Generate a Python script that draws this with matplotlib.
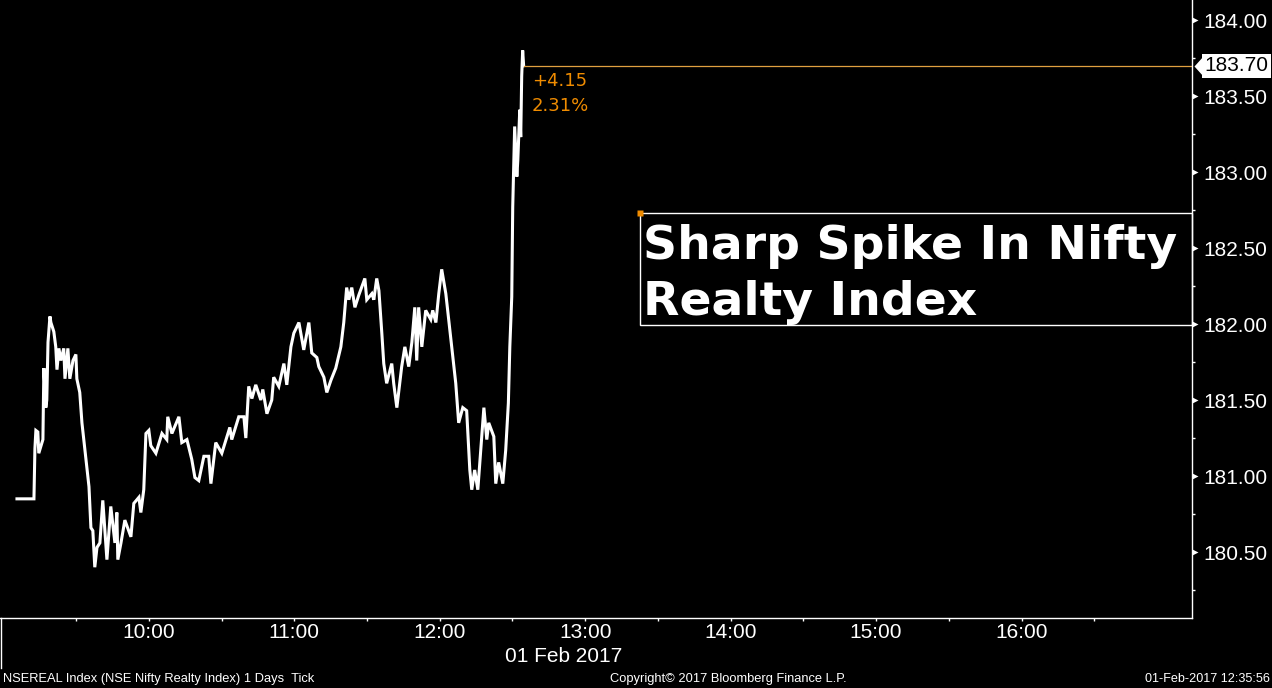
import matplotlib
matplotlib.use("Agg")
import matplotlib.pyplot as plt
from matplotlib.patches import Rectangle
from matplotlib.lines import Line2D
import matplotlib.transforms as mtransforms

# ---- data (minutes after 09:00, index level) ----
times = [5.6, 12.6, 13.0, 13.4, 14.2, 14.6, 16.3, 16.7, 17.5, 17.9,
         18.4, 19.2, 19.6, 20.8, 21.6, 22.1, 22.9, 23.7, 24.9, 25.4,
         26.6, 27.4, 28.7, 29.9, 30.3, 31.5, 32.4, 34.0, 35.3, 36.1,
         36.9, 37.7, 38.6, 39.8, 41.0, 42.7, 44.3, 46.0, 46.8, 47.2,
         48.5, 50.1, 52.6, 53.8, 55.9, 56.7, 57.9, 58.8, 60.0, 60.8,
         62.9, 65.4, 67.4, 67.8, 69.5, 72.4, 73.6, 75.7, 77.7, 79.0,
         80.6, 82.7, 84.7, 85.6, 87.6, 90.1, 93.4, 94.2, 97.1, 99.2,
         100.0, 101.2, 102.5, 104.1, 106.2, 107.0, 108.7, 110.7, 111.5, 113.6,
         115.7, 116.9, 118.6, 119.8, 121.9, 123.9, 126.0, 127.2, 129.3, 130.1,
         132.2, 133.4, 135.1, 137.1, 139.2, 140.4, 141.6, 142.5, 143.7, 145.0,
         146.6, 149.1, 149.9, 152.0, 152.8, 154.0, 154.9, 156.1, 156.9, 158.1,
         160.2, 161.0, 162.3, 164.3, 165.6, 167.2, 168.5, 169.7, 170.5, 171.3,
         172.6, 174.2, 176.3, 177.1, 178.4, 179.6, 180.8, 182.5, 184.5, 186.6,
         187.8, 189.5, 191.1, 192.4, 193.2, 194.4, 195.7, 196.9, 198.2, 199.4,
         200.2, 202.3, 203.1, 204.3, 206.0, 207.2, 208.3, 208.9, 209.7, 210.1,
         210.5, 210.9, 211.8, 212.2, 213.0, 213.4, 213.8, 214.2, 214.6]

values = [180.85, 180.85, 181.18, 181.30, 181.29, 181.15, 181.24, 181.71, 181.45, 181.50,
          181.88, 182.05, 182.01, 181.95, 181.85, 181.70, 181.84, 181.76, 181.84, 181.64,
          181.84, 181.64, 181.76, 181.80, 181.64, 181.55, 181.35, 181.12, 180.93, 180.66,
          180.64, 180.40, 180.53, 180.56, 180.84, 180.45, 180.80, 180.56, 180.76, 180.45,
          180.56, 180.71, 180.60, 180.82, 180.86, 180.76, 180.91, 181.28, 181.30, 181.20,
          181.15, 181.28, 181.24, 181.39, 181.28, 181.39, 181.22, 181.24, 181.11, 180.99,
          180.97, 181.13, 181.13, 180.95, 181.22, 181.15, 181.32, 181.24, 181.39, 181.39,
          181.25, 181.59, 181.51, 181.60, 181.50, 181.57, 181.41, 181.50, 181.65, 181.59,
          181.74, 181.60, 181.85, 181.94, 182.01, 181.83, 182.01, 181.81, 181.78, 181.72,
          181.65, 181.55, 181.63, 181.71, 181.85, 182.01, 182.24, 182.16, 182.24, 182.11,
          182.19, 182.30, 182.16, 182.20, 182.16, 182.30, 182.22, 181.94, 181.74, 181.61,
          181.74, 181.61, 181.45, 181.72, 181.85, 181.72, 181.88, 182.11, 181.76, 182.11,
          181.85, 182.09, 182.03, 182.09, 182.01, 182.20, 182.36, 182.20, 181.91, 181.61,
          181.35, 181.45, 181.43, 181.04, 180.91, 181.04, 180.91, 181.17, 181.45, 181.24,
          181.35, 181.26, 180.95, 181.09, 180.95, 181.17, 181.48, 181.85, 182.18, 182.77,
          183.05, 183.30, 182.97, 183.08, 183.41, 183.23, 183.63, 183.80, 183.70]

hour_labels = ["10:00", "11:00", "12:00", "13:00", "14:00", "15:00", "16:00"]
y_ticks = [180.5, 181.0, 181.5, 182.0, 182.5, 183.0, 183.5, 184.0]
last_price = 183.70
change_text = "+4.15"
change_pct_text = "2.31%"
title_lines = ["Sharp Spike In Nifty", "Realty Index"]
date_label = "01 Feb 2017"
footer_left = "NSEREAL Index (NSE Nifty Realty Index) 1 Days  Tick"
footer_mid = "Copyright\u00a9 2017 Bloomberg Finance L.P."
footer_right = "01-Feb-2017 12:35:56"

ORANGE = "#f08c00"
TICKFONT = "Liberation Sans"
XLIM = (-1.4, 490.3)
YLIM = (180.066, 184.132)

fig = plt.figure(figsize=(12.72, 6.88), dpi=100, facecolor="black")
ax = fig.add_axes([0, 70 / 688, 1192 / 1272, 618 / 688])
ax.set_facecolor("black")
ax.set_autoscale_on(False)
ax.set_xlim(*XLIM)
ax.set_ylim(*YLIM)

ax.plot(times, values, color="white", lw=2.2, solid_joinstyle="miter")

# spines
for s in ["left", "top"]:
    ax.spines[s].set_visible(False)
for s in ["right", "bottom"]:
    ax.spines[s].set_color("white")
    ax.spines[s].set_linewidth(1.0)

# x ticks: marks every 30 min, labels on hours
hour_pos = [(int(h.split(":")[0]) - 9) * 60 for h in hour_labels]
half_pos = [30 + 60 * i for i in range(8)]
all_pos = sorted(hour_pos + half_pos)
lab_map = dict(zip(hour_pos, hour_labels))
ax.set_xticks(all_pos)
ax.set_xticklabels([lab_map.get(p, "") for p in all_pos])
ax.tick_params(axis="x", colors="white", length=2.5, width=1, pad=1,
               labelsize=15, direction="out")
for t in ax.get_xticklabels():
    t.set_fontfamily(TICKFONT)

# y ticks on right
ax.yaxis.tick_right()
ax.set_yticks(y_ticks)
ax.set_yticklabels([f"{v:.2f}" for v in y_ticks])
ax.set_yticks([v + 0.25 for v in y_ticks] + [180.25], minor=True)
ax.tick_params(axis="y", which="major", colors="white", length=0, pad=8, labelsize=15)
ax.tick_params(axis="y", which="minor", colors="white", length=2.5, width=1)
for t in ax.get_yticklabels():
    t.set_fontfamily(TICKFONT)

# small triangle markers for major y ticks
btrans = mtransforms.blended_transform_factory(ax.transAxes, ax.transData)
tri_trans = mtransforms.offset_copy(btrans, fig=fig, x=3, y=0, units="dots")
ax.plot([1.0] * len(y_ticks), y_ticks, linestyle="none", marker=">", ms=4,
        color="white", mec="none", transform=tri_trans, clip_on=False)

# last price horizontal line
ax.plot([times[-1], XLIM[1]], [last_price, last_price], color="#e0a040", lw=0.9)

# last price label on the right axis
arrow_trans = mtransforms.offset_copy(btrans, fig=fig, x=7, y=0, units="dots")
ax.plot([1.0], [last_price], linestyle="none",
        marker=[(-0.45, 0), (0.45, 1), (0.45, -1)], ms=16, color="white",
        mec="none", transform=arrow_trans, clip_on=False)
ax.annotate(f"{last_price:.2f}", xy=(1.0, last_price), xycoords=btrans,
            xytext=(12, 0), textcoords="offset pixels", ha="left", va="center",
            fontsize=15, family=TICKFONT, color="black",
            bbox=dict(boxstyle="square,pad=0.12", fc="white", ec="none"),
            annotation_clip=False)

# change annotation
ax.annotate(change_text, xy=(times[-1], values[-1]), xytext=(8, -20),
            textcoords="offset pixels", ha="left", va="baseline",
            fontsize=13, color=ORANGE, family="DejaVu Sans")
ax.annotate(change_pct_text, xy=(times[-1], values[-1]), xytext=(8, -45),
            textcoords="offset pixels", ha="left", va="baseline",
            fontsize=13, color=ORANGE, family="DejaVu Sans")

# title box
bx0, by0, by1 = 640 / 1192, (618 - 325) / 618, (618 - 213) / 618
ax.add_patch(Rectangle((bx0, by0), 1.0 - bx0, by1 - by0, transform=ax.transAxes,
                       fill=False, ec="white", lw=1.0, clip_on=False))
ax.plot([bx0], [by1], marker="s", ms=5, color=ORANGE, mec="none",
        transform=ax.transAxes, clip_on=False)
ax.text(643 / 1192, (618 - 259) / 618, title_lines[0], transform=ax.transAxes,
        ha="left", va="baseline", fontsize=34, fontweight="bold",
        color="white", family="DejaVu Sans")
ax.text(643 / 1192, (618 - 315) / 618, title_lines[1], transform=ax.transAxes,
        ha="left", va="baseline", fontsize=34, fontweight="bold",
        color="white", family="DejaVu Sans")

# date below axis
fig.text(564 / 1272, (688 - 657) / 688, date_label, ha="center", va="center",
         fontsize=15, color="white", family=TICKFONT)

# left separator line
fig.add_artist(Line2D([0.8 / 1272, 0.8 / 1272], [20 / 688, 70 / 688],
                      color="white", lw=1.0, transform=fig.transFigure))

# footer
fig.text(3 / 1272, (688 - 679) / 688, footer_left, ha="left", va="center",
         fontsize=9.3, color="white", family=TICKFONT)
fig.text(728 / 1272, (688 - 679) / 688, footer_mid, ha="center", va="center",
         fontsize=9.3, color="white", family=TICKFONT)
fig.text(1270 / 1272, (688 - 679) / 688, footer_right, ha="right", va="center",
         fontsize=9.1, color="white", family=TICKFONT)

ax.set_xlim(*XLIM)
ax.set_ylim(*YLIM)
fig.savefig("out.png", dpi=100, facecolor="black")
